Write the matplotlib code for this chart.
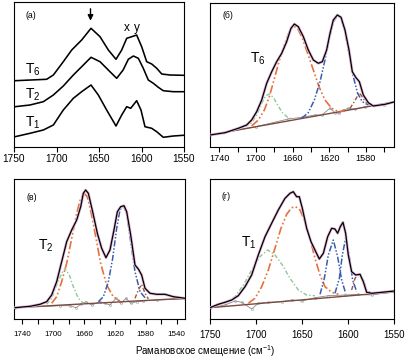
import matplotlib
matplotlib.use("Agg")
import matplotlib.pyplot as plt

plt.rcParams['font.family'] = ['Liberation Sans', 'DejaVu Sans']
plt.rcParams['mathtext.default'] = 'regular'

# ---------------- panel (a): raw spectra ----------------
a_T6_x = [1748.8, 1711.6, 1703.7, 1692, 1682.1, 1670.4, 1659.4, 1648.8, 1639, 1630, 1623.3, 1617.4,
          1611.5, 1605.7, 1599.8, 1593.9, 1588, 1582.1, 1576.2, 1566.5, 1550.8]
a_T6_y = [66.3, 67.7, 72, 85.3, 97, 107, 118.7, 110.3, 97, 87.7, 97, 108.7,
          110.3, 112, 100.3, 85.3, 83, 78.7, 73, 72, 71.7]
a_T2_x = [1748.8, 1731.2, 1715.5, 1703.7, 1692, 1680.2, 1670.4, 1659.4, 1648.8, 1637.1, 1629.2, 1621.6,
          1615.5, 1609.6, 1603.7, 1597.9, 1592, 1586.1, 1580.2, 1574.4, 1562.6, 1550.8]
a_T2_y = [40.3, 42, 45.3, 52, 61, 72, 80.3, 89.7, 85.3, 75.3, 68.7, 77,
          87.7, 91, 88.7, 78.7, 67, 63.7, 59.7, 56.3, 55.3, 55.3]
a_T1_x = [1748.8, 1731.2, 1715.5, 1703.7, 1692, 1680.2, 1670.4, 1659.4, 1650.8, 1641, 1630, 1623.3,
          1617.4, 1612.7, 1605.7, 1600.6, 1595.9, 1588, 1582.1, 1574.4, 1562.6, 1550.8]
a_T1_y = [10.3, 13.7, 17, 22, 37, 48.7, 55.3, 62, 52, 37, 21, 32,
          40.3, 38.7, 46.3, 37, 20.3, 18.7, 15.3, 9.7, 11, 11.7]

# ---------------- panel (б): T6 fit ----------------
b_base_x = [1750, 1548]
b_base_y = [12, 45.3]
b_tot_x = [1750, 1733.6, 1719.1, 1710, 1704.6, 1699.1, 1693.6, 1688.2, 1682.7, 1677.3, 1671.8, 1666.4,
           1661.7, 1658, 1653.7, 1648.2, 1642.8, 1637.3, 1631.9, 1627.5, 1622.8, 1619.1, 1615.5, 1611.1,
           1607.1, 1602.8, 1598.4, 1594.8, 1591.1, 1587.1, 1582.8, 1577.3, 1571.9, 1559.1, 1548.2]
b_tot_y = [12, 14.3, 18.7, 22, 27, 35.3, 47, 63.7, 75.3, 85.3, 93.7, 105.3,
           118.7, 123, 120.3, 110.3, 97, 87, 83.7, 85.3, 97, 113.7, 127, 132,
           129.7, 117, 97, 75.3, 69.7, 65.3, 52, 44.3, 41, 42.7, 45.3]
b_green_x = [1711.8, 1704.6, 1699.1, 1693.6, 1689.3, 1685.6, 1681, 1676.2, 1671.1, 1665.3, 1659.1]
b_green_y = [20.3, 24.3, 32, 43.7, 51, 53, 49.7, 42, 34.3, 29.7, 27.7]
b_orange_x = [1704.6, 1697.3, 1690.7, 1685.3, 1680.2, 1674.8, 1669, 1663.9, 1659.1, 1654.4, 1649.3,
              1643.5, 1637.3, 1631.1, 1624.6, 1617.3, 1610.1, 1602.8]
b_orange_y = [21, 27, 37, 50.3, 67, 85.3, 102, 114.3, 121, 118.7, 108.7,
              93.7, 77, 60.3, 47, 38.7, 35.3, 36]
b_blue_x = [1650, 1642.8, 1636.2, 1630, 1624.6, 1619.9, 1615.5, 1611.1, 1607.1, 1602.8, 1598.4,
            1593.7, 1589, 1583.9, 1577.3]
b_blue_y = [28.7, 34.3, 47, 65.3, 87, 108.7, 125.3, 131.3, 128.7, 115.3, 93.7,
            70.3, 53.7, 45.3, 42]
b_brown_x = [1597.3, 1592.6, 1587.1, 1581.7, 1575.5]
b_brown_y = [38.7, 45.3, 54.3, 47, 41]
b_res_x = [1750, 1700, 1664.6, 1650, 1635.5, 1628.2, 1619.1, 1613.7, 1609.3, 1604.6, 1599.1, 1591.9, 1581, 1560]
b_res_y = [12, 20.3, 28, 29.7, 32, 32, 38.7, 34.3, 33.7, 37, 38.7, 37.7, 40.3, 42.5]

# ---------------- panel (в): T2 fit ----------------
c_base_x = [1751, 1529]
c_base_y = [11.3, 20.7]
c_tot_x = [1749.7, 1730.2, 1717.2, 1708.6, 1702.1, 1695.6, 1689.1, 1682.6, 1676.1, 1669.6, 1664.4, 1661,
           1658, 1654.5, 1648.9, 1642.8, 1637.2, 1631.6, 1626.4, 1621.2, 1616.8, 1612.5, 1608.2, 1604.7,
           1599.5, 1593.9, 1589.6, 1585.3, 1580.9, 1574.4, 1565.8, 1555, 1544.1, 1529]
c_tot_y = [11.3, 12.7, 14.7, 17.3, 24, 37.3, 57.3, 77.3, 89, 99, 112.3, 125.7,
           129, 125.7, 107.3, 85.7, 70.7, 61.3, 69, 89, 107.3, 112.3, 113.3, 107.3,
           84, 54, 50, 44, 30.7, 25.7, 24.7, 24.7, 22.3, 20.7]
c_green_x = [1708.6, 1702.1, 1695.6, 1689.1, 1684.8, 1679.2, 1674, 1667.5, 1661]
c_green_y = [14.7, 20.7, 34, 45.7, 50.7, 44, 32.3, 20.7, 15.7]
c_orange_x = [1702.1, 1695.6, 1689.1, 1682.6, 1676.1, 1669.6, 1664.4, 1660.1, 1655.8, 1650.2, 1644.5,
              1638.5, 1630.7, 1622.1, 1613.4]
c_orange_y = [15.7, 22.3, 37.3, 55.7, 80.7, 105.7, 120.7, 125.7, 122.3, 104, 80.7,
              55.7, 34, 22.3, 18]
c_blue_x = [1641.5, 1635, 1628.5, 1622.9, 1617.7, 1613.4, 1609.1, 1604.7, 1599.5, 1593.9, 1587.4, 1580.9]
c_blue_y = [17.3, 22.3, 37.3, 60.7, 90.7, 109, 113.3, 105.7, 77.3, 47.3, 27.3, 21.3]
c_brown_x = [1593.9, 1589.6, 1585.3, 1580.9, 1576.6]
c_brown_y = [20.7, 29, 34.7, 25.7, 20]
c_res_x = [1749.7, 1691.3, 1678.3, 1670.5, 1664.4, 1657.5, 1650.2, 1639.4, 1632.9, 1626.4, 1618.6,
           1612.5, 1605.6, 1599.5, 1591.8, 1583.1, 1565.8, 1529]
c_res_y = [11.3, 13.3, 13.3, 11.3, 14.7, 17.3, 14, 17.3, 15.7, 14, 20.7,
           15.7, 20.7, 15.7, 17.3, 18, 19, 20]

# ---------------- panel (г): T1 fit ----------------
d_base_x = [1750, 1550]
d_base_y = [11.3, 27]
d_tot_x = [1750, 1741, 1733.7, 1726.5, 1719.3, 1712, 1704.8, 1697.6, 1690.3, 1683.1, 1675.9, 1668.6,
           1663.2, 1659.6, 1656, 1653.1, 1649.8, 1645.1, 1640.4, 1636.1, 1631.4, 1627, 1622.3, 1618,
           1614.4, 1611.5, 1608.6, 1605.7, 1602.8, 1599.9, 1596.3, 1591.9, 1587.2, 1583.6, 1580,
           1574.6, 1563.7, 1550]
d_tot_y = [11.3, 14.7, 16.7, 19, 23.3, 32.3, 44, 64, 82.3, 95.7, 109, 120.7,
           125.7, 127.3, 122.3, 122.3, 110.7, 90.7, 77.3, 69, 60, 65.7, 82.3, 90.7,
           90, 85.7, 92.3, 96.7, 85.7, 64, 47.3, 44, 44.7, 37.3, 26.7,
           25.7, 26.7, 28]
d_green_x = [1733.7, 1722.9, 1713.8, 1704.8, 1695.8, 1687.4, 1679.5, 1671.5, 1663.2, 1654.1, 1645.1, 1636.1]
d_green_y = [15.7, 22.3, 34, 49, 62.3, 69, 64, 54, 40.7, 29, 24, 23.3]
d_orange_x = [1708.4, 1701.2, 1693.9, 1686.7, 1679.5, 1673, 1666.8, 1661.4, 1657.1, 1652.3, 1646.9,
              1641.5, 1636.1, 1630.6, 1625.2, 1618, 1610.7]
d_orange_y = [15.7, 20.7, 32.3, 49, 70.7, 90.7, 104.7, 111.3, 112.3, 109, 97.3,
              80.7, 60.7, 44, 32.3, 26.7, 24.7]
d_blue1_x = [1630.6, 1625.9, 1621.6, 1616.2, 1611.5, 1607.1, 1602.8]
d_blue1_y = [24.7, 40.7, 64, 79, 62.3, 39, 25.7]
d_blue2_x = [1614.4, 1609.6, 1606.4, 1602.8, 1598.8, 1595.2, 1590.8]
d_blue2_y = [25.7, 40.7, 64, 80.7, 62.3, 39, 27.3]
d_brown_x = [1596.3, 1592.6, 1588.3, 1583.6, 1580, 1576.4]
d_brown_y = [29, 40.7, 45.3, 39, 29, 26.7]
d_res_x = [1750, 1733.7, 1722.9, 1715.6, 1704.8, 1697.6, 1686.7, 1672.2, 1661.4, 1650.5, 1636.1,
           1621.6, 1603.5, 1589, 1574.6, 1550]
d_res_y = [11.3, 14, 18, 16.7, 10, 15.7, 16.7, 17.3, 19, 18, 21.3,
           23.3, 24, 24.7, 24, 27.3]

# ---------------- style ----------------
ORANGE = '#e8703a'
GREEN = '#8cc79a'
BLUE = '#3a5cb0'
BROWN = '#a0523c'
PINK = '#e0b8d8'
BASE = '#7a4a40'
LS_OR = (0, (5, 1.5, 1, 1.5, 1, 1.5))
LS_GR = (0, (3, 1.5, 1, 1.5))
LS_BL = (0, (4, 1.2, 1, 1.2, 1, 1.2))
LS_BR = (0, (3, 1.5, 1, 1.5))

W, H = 409, 363
fig = plt.figure(figsize=(W / 100, H / 100), dpi=100)


def mkax(l, r, t, b):
    ax = fig.add_axes([l / W, (H - b) / H, (r - l) / W, (b - t) / H])
    for s in ax.spines.values():
        s.set_linewidth(0.8)
    ax.set_yticks([])
    ax.tick_params(axis='x', direction='out', length=3.6, width=0.8)
    ax.tick_params(axis='x', which='minor', direction='out', length=3.6, width=0.8)
    return ax


# (a)
ax = mkax(14, 184, 2, 147)
for xs, ys in [(a_T6_x, a_T6_y), (a_T2_x, a_T2_y), (a_T1_x, a_T1_y)]:
    ax.plot(xs, ys, color='black', lw=1.15, solid_joinstyle='round')
ax.set_xlim(1750, 1550)
ax.set_ylim(0, 145)
ax.set_xticks([1750, 1700, 1650, 1600, 1550])
ax.tick_params(axis='x', labelsize=7.3, pad=1.5)
ax.text(1736, 131.5, '(a)', fontsize=6.3, va='center', ha='left')
ax.text(1737, 77, '$T_6$', fontsize=10, va='center', ha='left')
ax.text(1737, 52, '$T_2$', fontsize=10, va='center', ha='left')
ax.text(1737, 24, '$T_1$', fontsize=10, va='center', ha='left')
ax.annotate('', xy=(1660, 123.5), xytext=(1660, 141),
            arrowprops=dict(arrowstyle='-|>', color='black', lw=1.0, mutation_scale=8))
ax.text(1617.4, 119, 'x', fontsize=8.5, ha='center', va='center')
ax.text(1605.7, 119, 'y', fontsize=8.5, ha='center', va='center')


def fitpanel(ax, base, tot, green, orange, blues, brown, res):
    ax.plot(*res, color='#8a8a8a', lw=0.6, marker='o', ms=1.5, mfc='none', mew=0.35, zorder=2)
    ax.plot(*base, color=BASE, lw=1.0, zorder=2)
    ax.plot(*green, color=GREEN, lw=1.0, ls=LS_GR, zorder=3)
    ax.plot(*orange, color=ORANGE, lw=1.2, ls=LS_OR, zorder=3)
    for bl in blues:
        ax.plot(*bl, color=BLUE, lw=1.1, ls=LS_BL, zorder=3)
    ax.plot(*brown, color=BROWN, lw=1.0, ls=LS_BR, zorder=3)
    ax.plot(*tot, color=PINK, lw=2.0, zorder=4, solid_joinstyle='round')
    ax.plot(*tot, color='black', lw=0.9, zorder=5, solid_joinstyle='round')


# (б)
ax = mkax(210, 394.3, 2.7, 147)
fitpanel(ax, (b_base_x, b_base_y), (b_tot_x, b_tot_y), (b_green_x, b_green_y),
         (b_orange_x, b_orange_y), [(b_blue_x, b_blue_y)], (b_brown_x, b_brown_y), (b_res_x, b_res_y))
ax.set_xlim(1750, 1549)
ax.set_ylim(0, 144.3)
ax.set_xticks([1740, 1700, 1660, 1620, 1580])
ax.set_xticks([1720, 1680, 1640, 1600, 1560], minor=True)
ax.tick_params(axis='x', labelsize=6.6, pad=1.5)
ax.text(1736.5, 131.5, '(б)', fontsize=6.3, va='center', ha='left')
ax.text(1706.4, 88, '$T_6$', fontsize=10, va='center', ha='left')

# (в)
ax = mkax(14, 185, 179.3, 319)
fitpanel(ax, (c_base_x, c_base_y), (c_tot_x, c_tot_y), (c_green_x, c_green_y),
         (c_orange_x, c_orange_y), [(c_blue_x, c_blue_y)], (c_brown_x, c_brown_y), (c_res_x, c_res_y))
ax.set_xlim(1751, 1529)
ax.set_ylim(0, 139.7)
ax.set_xticks([1740, 1700, 1660, 1620, 1580, 1540])
ax.set_xticks([1720, 1680, 1640, 1600, 1560], minor=True)
ax.tick_params(axis='x', labelsize=5.8, pad=5)
ax.text(1735.4, 121, '(в)', fontsize=6.3, va='center', ha='left')
ax.text(1719.4, 73, '$T_2$', fontsize=10, va='center', ha='left')

# (г)
ax = mkax(210, 394.3, 179.3, 319)
fitpanel(ax, (d_base_x, d_base_y), (d_tot_x, d_tot_y), (d_green_x, d_green_y),
         (d_orange_x, d_orange_y), [(d_blue1_x, d_blue1_y), (d_blue2_x, d_blue2_y)],
         (d_brown_x, d_brown_y), (d_res_x, d_res_y))
ax.set_xlim(1750, 1550)
ax.set_ylim(0, 139.7)
ax.set_xticks([1750, 1700, 1650, 1600, 1550])
ax.tick_params(axis='x', labelsize=7, pad=4)
ax.text(1737.3, 122.3, '(г)', fontsize=6.3, va='center', ha='left')
ax.text(1716.4, 76.5, '$T_1$', fontsize=10, va='center', ha='left')

fig.text(205 / W, 1 - 351 / H, 'Рамановское смещение (см$^{-1}$)', fontsize=7,
         ha='center', va='center')

fig.savefig('out.png', dpi=100)
